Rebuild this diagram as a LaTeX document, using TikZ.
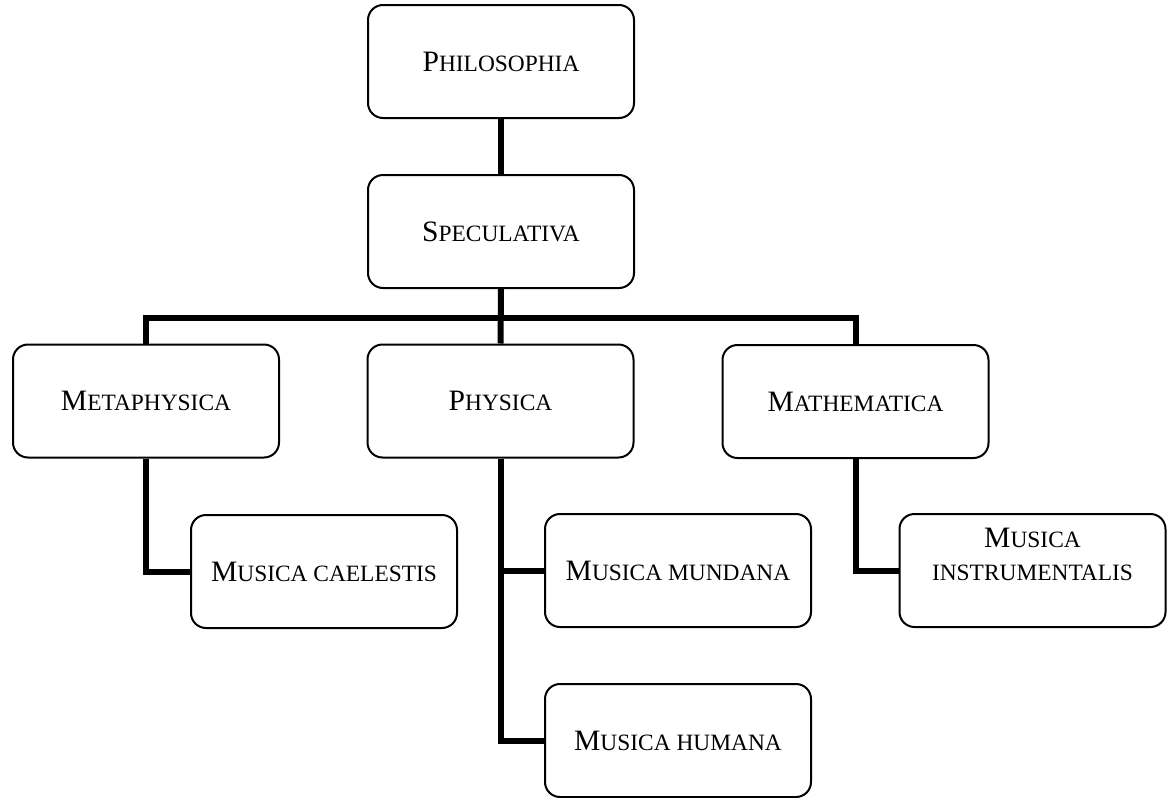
\documentclass[tikz,border=0pt]{standalone}
\usepackage{fontspec}
\setmainfont{Liberation Serif}
\newcommand\fsc[1]{{\fontsize{11.7}{16.5}\selectfont #1}}
\tikzset{
  box/.style={draw, line width=1pt, rounded corners=7.5pt, minimum width=133pt, minimum height=56.5pt, inner sep=0pt, font=\fontsize{14.8}{16.5}\selectfont},
  txt/.style={inner sep=0pt, align=center, font=\fontsize{14.8}{16.5}\selectfont},
  conn/.style={line width=3pt}
}
\begin{document}
\begin{tikzpicture}[x=0.5pt,y=-0.5pt]
\useasboundingbox (0,0) rectangle (1169,798);
\node[box] (philo) at (501,61.5) {P\fsc{HILOSOPHIA}};
\node[box] (spec) at (501,231.5) {S\fsc{PECULATIVA}};
\node[box] (meta) at (146,401) {M\fsc{ETAPHYSICA}};
\node[box] (phys) at (500.5,401) {P\fsc{HYSICA}};
\node[box] (math) at (855.5,401.5) {M\fsc{ATHEMATICA}};
\node[box] (cael) at (324,571.5) {M\fsc{USICA CAELESTIS}};
\node[box] (mund) at (678,570.5) {M\fsc{USICA MUNDANA}};
\node[box] (hum) at (678,740.5) {M\fsc{USICA HUMANA}};
\node[box] (instr) at (1032.5,570.5) {};
\node[txt] (instrtxt) at (1032.5,554.5) {M\fsc{USICA}\\\fsc{INSTRUMENTALIS}};
\coordinate (barL) at (146,318);
\coordinate (barR) at (855.5,318);
\draw[conn] (philo.south) -- (spec.north);
\draw[conn] (spec.south) -- (phys.north);
\draw[conn] (meta.north) -- (barL) -- (barR) -- (math.north);
\draw[conn] (meta.south) |- (cael.west);
\draw[conn] (phys.south) |- (mund.west);
\draw[conn] (phys.south) |- (hum.west);
\draw[conn] (math.south) |- (instr.west);
\end{tikzpicture}
\end{document}
